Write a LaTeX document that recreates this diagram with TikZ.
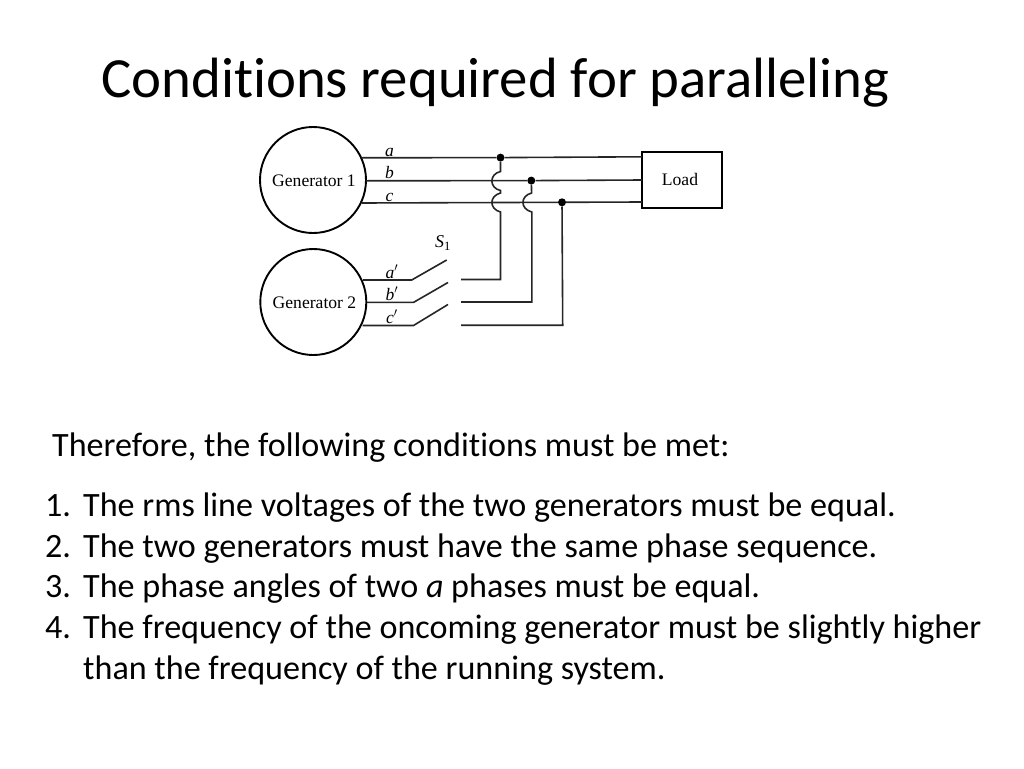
\documentclass[tikz,border=0pt]{standalone}
\usepackage{fontspec}
\setmainfont{Carlito}[Ligatures=NoCommon]
\newfontfamily\serifdiag{Liberation Serif}
\begin{document}
\begin{tikzpicture}[x=1pt,y=-1pt,
  titletext/.style={anchor=base west,inner sep=0pt,font=\fontsize{56.8}{56.8}\selectfont},
  bodytext/.style={anchor=base west,inner sep=0pt,font=\fontsize{34.1}{34.1}\selectfont},
  gentext/.style={draw=black,line width=1.9pt,circle,minimum size=106pt,inner sep=0pt},
  loadbox/.style={draw=black,line width=2.3pt,minimum width=80pt,minimum height=56pt,inner sep=0pt},
  difftext/.style={font=\serifdiag\fontsize{17.6}{17.6}\selectfont},
  wire/.style={draw=black!85,line width=1.6pt},
  junction/.style={circle,fill=black,minimum size=8pt,inner sep=0pt},
  phase/.style={anchor=base,inner sep=0pt,font=\serifdiag\itshape\fontsize{17.5}{17.5}\selectfont}]
\useasboundingbox[fill=white] (0,0) rectangle (1024,768);
\node[titletext] (title) at (101,97.5) {Conditions required for paralleling};
\node[gentext] (g1) at (313,180) {};
\node[gentext] (g2) at (313.3,302) {};
\node[difftext,inner sep=0pt] (g1t) at (314,181) {Generator 1};
\node[difftext,inner sep=0pt] (g2t) at (314.5,303) {Generator 2};
\node[loadbox] (load) at (682,180) {};
\node[difftext,inner sep=0pt] (loadt) at (680,179) {Load};
\node[junction] (ja) at (500.5,157.6) {};
\node[junction] (jb) at (531.3,180.6) {};
\node[junction] (jc) at (562,202.3) {};
\coordinate (a1) at (361.5,157.8);
\coordinate (b1) at (366,180.8);
\coordinate (c1) at (361.5,203);
\coordinate (a2) at (642,156.8);
\coordinate (b2) at (642,180);
\coordinate (c2) at (642,202);
\draw[wire] (a1) -- (ja) -- (a2);
\draw[wire] (b1) -- (jb) -- (b2);
\draw[wire] (c1) -- (jc) -- (c2);
\coordinate (ac) at (500.5,279.5);
\coordinate (bc) at (531.8,302);
\coordinate (cc) at (562.7,325.2);
\coordinate (as) at (461,279.5);
\coordinate (bs) at (461,302);
\coordinate (cs) at (461,325.2);
\draw[wire] (ja) -- (500.5,171.5) .. controls (489,174) and (489,188) .. (500.5,190.5) -- (500.5,193) .. controls (489,196) and (489,209) .. (500.5,212) -- (ac) -- (as);
\draw[wire] (jb) -- (531.6,193) .. controls (520,196) and (520,209) .. (531.8,212) -- (bc) -- (bs);
\draw[wire] (jc) -- (cc) -- (cs);
\coordinate (ag) at (363,280);
\coordinate (bg) at (367,302.3);
\coordinate (cg) at (362.5,325.5);
\draw[wire] (ag) -- (411.7,280) -- (446.7,260);
\draw[wire] (bg) -- (413.7,302.3) -- (448,282.5);
\draw[wire] (cg) -- (413.5,325.5) -- (448,304.5);
\node[phase] (la) at (389.5,156) {a};
\node[phase] (lb) at (389.5,178) {b};
\node[phase] (lc) at (389.5,201) {c};
\node[phase] (lap) at (392,278) {a$'$};
\node[phase] (lbp) at (392,300) {b$'$};
\node[phase] (lcp) at (392,323) {c$'$};
\node[phase,font=\serifdiag\itshape\fontsize{18}{18}\selectfont] (s1) at (443,247.5) {S\textsubscript{\upshape 1}};
\node[bodytext] (intro) at (52,456) {Therefore, the following conditions must be met:};
\node[bodytext] (n1) at (45,516) {1.};
\node[bodytext] (t1) at (83,516) {The rms line voltages of the two generators must be equal.};
\node[bodytext] (n2) at (45,557) {2.};
\node[bodytext] (t2) at (83,557) {The two generators must have the same phase sequence.};
\node[bodytext] (n3) at (45,597) {3.};
\node[bodytext] (t3) at (83,597) {The phase angles of two \textit{a} phases must be equal.};
\node[bodytext] (n4) at (45,638) {4.};
\node[bodytext] (t4) at (83,638) {The frequency of the oncoming generator must be slightly higher};
\node[bodytext] (t5) at (83,679) {than the frequency of the running system.};
\end{tikzpicture}
\end{document}
